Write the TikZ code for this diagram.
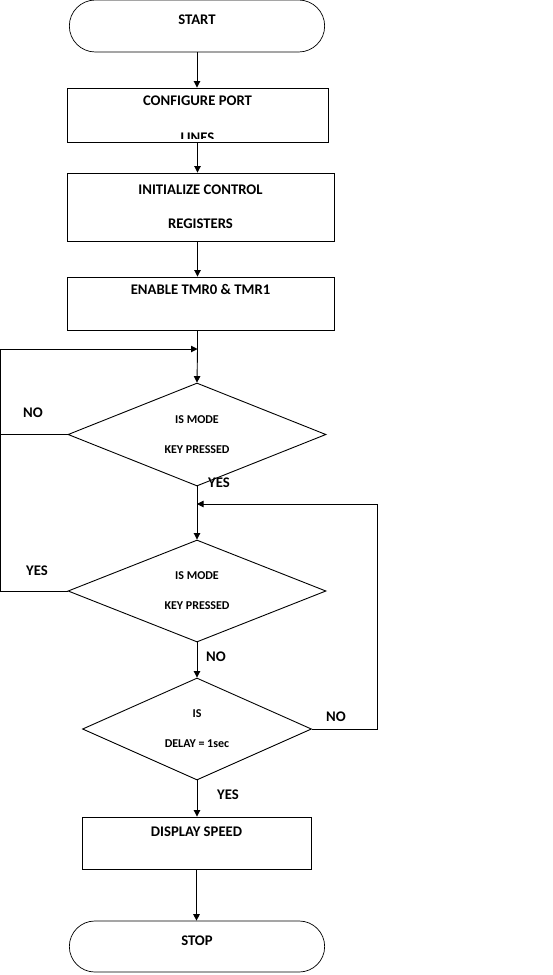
\documentclass[tikz,border=0pt]{standalone}
\usepackage{fontspec}
\setmainfont{Carlito}
\usetikzlibrary{shapes.geometric}
\usetikzlibrary{shapes.misc}
\usetikzlibrary{arrows.meta}
\usetikzlibrary{calc}
\tikzset{
   every path/.style={>={Triangle[length=6.5pt,width=6.5pt]}},
   flow/.style={->,line width=0.9pt},
   wire/.style={-,line width=0.9pt},
   term/.style={rounded rectangle,draw,line width=0.7pt,minimum width=262pt,minimum height=52pt,
     font=\bfseries\fontsize{14.7}{17.6}\selectfont,text height=10pt},
   procbox/.style={rectangle,draw,line width=0.9pt,align=center,
     font=\bfseries\fontsize{14.7}{17.6}\selectfont},
   decide/.style={diamond,draw,line width=0.9pt,aspect=2.5,inner sep=0pt,align=center,
     font=\bfseries\fontsize{12}{14.4}\selectfont},
   answer/.style={font=\bfseries\fontsize{14.7}{17.6}\selectfont},
}

\begin{document}
\begin{tikzpicture}[x=1pt,y=-1pt]
  \useasboundingbox (0,0) rectangle (552,975);

  \node[term, text depth=12.6pt] (start) at (197,26) {START};
  \node[procbox, minimum width=261pt, minimum height=54pt, text height=10pt, text depth=28.6pt]
    (cfg) at (197.5,115) {CONFIGURE PORT};
  \begin{scope}
    \clip (67,88) rectangle (328,138);
    \node[procbox, draw=none, text height=10pt] (cfgb) at (197.5,137.5) {LINES};
  \end{scope}
  \node[procbox, minimum width=267pt, minimum height=68pt] (init) at (200.5,207)
    {INITIALIZE CONTROL\\[16pt]REGISTERS};
  \node[procbox, minimum width=267pt, minimum height=53pt, text height=10pt, text depth=27.6pt]
    (enable) at (200.5,303.5) {ENABLE TMR0 \& TMR1};

  \node[decide, minimum width=258pt, minimum height=103pt] (mode1) at (197,434.5)
    {IS MODE\\[15.6pt]KEY PRESSED};
  \node[decide, minimum width=258pt, minimum height=102pt] (mode2) at (197,591)
    {IS MODE\\[15.6pt]KEY PRESSED};
  \node[decide, minimum width=229pt, minimum height=102pt] (delay) at (197,729)
    {IS\\[15.6pt]DELAY = 1sec};

  \node[procbox, minimum width=229pt, minimum height=52pt, text height=10pt, text depth=22.6pt]
    (disp) at (196.5,843) {DISPLAY SPEED};
  \node[term, minimum height=51pt, text depth=11.6pt] (stop) at (197,946.5) {STOP};

  \node[answer] (no1)  at (33,413)  {NO};
  \node[answer] (yes1) at (219,483) {YES};
  \node[answer] (yes2) at (37,571)  {YES};
  \node[answer] (no2)  at (216,657) {NO};
  \node[answer] (no3)  at (336,717) {NO};
  \node[answer] (yes3) at (228,795) {YES};

  \coordinate (nw) at (0.5,349);
  \coordinate (ne) at (377,504);

  \draw[flow] (start.south) -- (start.south |- cfg.north);
  \draw[flow] (cfg.south) -- (cfg.south |- init.north);
  \draw[flow] (cfg.south |- init.south) -- (cfg.south |- enable.north);
  \draw[wire] (cfg.south |- enable.south) -- (cfg.south |- nw) coordinate (joinup);
  \draw[flow] (joinup) -- (mode1.north);

  \draw[wire] (mode1.west) -- (mode1.west -| nw);
  \draw[flow] (mode2.west) -- (mode2.west -| nw) -- (nw) -- (joinup);

  \draw[flow] (mode1.south) -- (mode2.north);
  \draw[flow] (mode2.south) -- (delay.north);
  \draw[flow] (delay.east) -- (delay.east -| ne) -- (ne) -- (mode1.south |- ne);

  \draw[flow] (delay.south) -- (delay.south |- disp.north);
  \draw[flow] (disp.south) -- (disp.south |- stop.north);
\end{tikzpicture}
\end{document}
